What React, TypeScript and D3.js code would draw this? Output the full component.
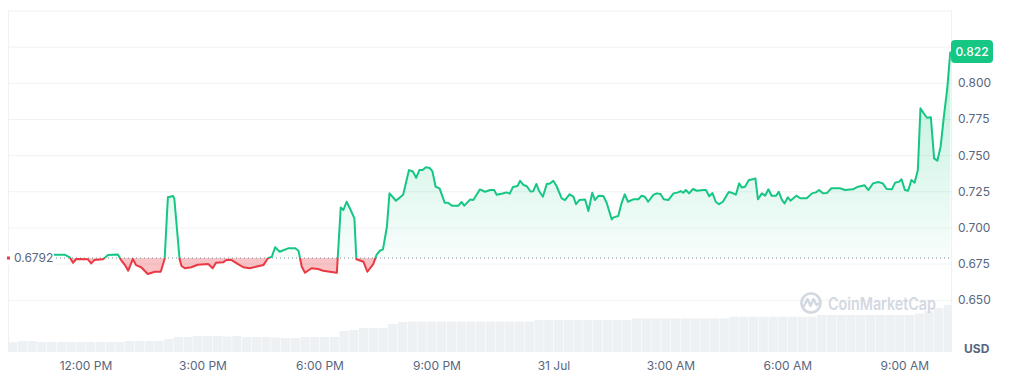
import React from "react";
import * as d3 from "d3";

// ---- data ----
const startTime = new Date(2024, 6, 30, 10, 0);
const endMinutes = 1451;
const baselinePrice = 0.6792;
const lastPrice = 0.822;

// [minutes since start, price USD]
const pricePoints: [number, number][] = [
  [0, 0.6815], [72, 0.6815], [87, 0.6815], [95, 0.6797], [100, 0.6759], [105, 0.6785], [123, 0.6783], [128, 0.6755],
  [133, 0.6778], [146, 0.6783], [154, 0.6813], [169, 0.6817], [174, 0.6778], [180, 0.6743], [185, 0.6704], [192, 0.6785],
  [197, 0.6743], [205, 0.6728], [215, 0.6681], [226, 0.6697], [235, 0.6697], [241, 0.6785], [246, 0.7212], [254, 0.7221],
  [256, 0.72], [264, 0.6785], [267, 0.6737], [272, 0.6721], [282, 0.6728], [292, 0.6745], [308, 0.675], [315, 0.6721],
  [320, 0.6759], [331, 0.6762], [336, 0.6778], [344, 0.6778], [354, 0.675], [362, 0.6728], [372, 0.6721], [383, 0.6733],
  [393, 0.6743], [400, 0.679], [406, 0.6801], [411, 0.6866], [418, 0.6835], [431, 0.6859], [442, 0.6859], [447, 0.6842],
  [452, 0.6732], [457, 0.669], [467, 0.6721], [477, 0.6716], [485, 0.6704], [495, 0.6697], [506, 0.669], [512, 0.7142],
  [516, 0.7124], [521, 0.7181], [526, 0.7136], [533, 0.7066], [536, 0.6783], [547, 0.6766], [553, 0.6697], [562, 0.675],
  [567, 0.6813], [572, 0.6842], [577, 0.6852], [583, 0.7008], [587, 0.7239], [597, 0.7188], [608, 0.723], [617, 0.74],
  [623, 0.739], [628, 0.7346], [633, 0.74], [638, 0.74], [643, 0.7419], [649, 0.7414], [653, 0.7392], [658, 0.7285],
  [664, 0.7274], [672, 0.7174], [677, 0.7174], [683, 0.7154], [693, 0.7154], [698, 0.7179], [702, 0.7154], [711, 0.7196],
  [716, 0.7193], [726, 0.7266], [734, 0.725], [742, 0.7262], [748, 0.7262], [752, 0.723], [761, 0.7238], [767, 0.7246],
  [772, 0.7237], [777, 0.7283], [784, 0.729], [788, 0.7326], [793, 0.7297], [798, 0.729], [804, 0.7252], [808, 0.7253],
  [813, 0.7304], [817, 0.7257], [823, 0.7216], [829, 0.7304], [834, 0.7307], [839, 0.7326], [844, 0.729], [852, 0.7205],
  [857, 0.7193], [864, 0.7232], [870, 0.7216], [874, 0.7164], [879, 0.7193], [888, 0.7196], [893, 0.7117], [899, 0.7243],
  [903, 0.7193], [909, 0.7223], [916, 0.7221], [921, 0.7176], [929, 0.7059], [932, 0.7073], [939, 0.7082], [944, 0.717],
  [949, 0.7232], [954, 0.7181], [962, 0.7198], [970, 0.7198], [975, 0.7223], [980, 0.7216], [985, 0.7181], [993, 0.7228],
  [998, 0.7239], [1004, 0.7234], [1009, 0.7198], [1016, 0.7193], [1024, 0.7239], [1031, 0.7246], [1035, 0.7255], [1039, 0.7243],
  [1043, 0.7262], [1048, 0.7239], [1054, 0.7269], [1060, 0.7257], [1070, 0.7262], [1074, 0.7262], [1079, 0.7219], [1084, 0.7241],
  [1089, 0.7181], [1094, 0.7164], [1100, 0.7181], [1109, 0.7248], [1115, 0.7241], [1120, 0.723], [1125, 0.7308], [1129, 0.7279],
  [1134, 0.7285], [1140, 0.7331], [1146, 0.7336], [1150, 0.7343], [1154, 0.7198], [1160, 0.7239], [1165, 0.7223], [1170, 0.7267],
  [1175, 0.7223], [1182, 0.7223], [1186, 0.725], [1191, 0.7193], [1195, 0.717], [1200, 0.7212], [1204, 0.7188], [1213, 0.7223],
  [1219, 0.7205], [1229, 0.7205], [1237, 0.7239], [1243, 0.7246], [1248, 0.7262], [1254, 0.7239], [1260, 0.7241], [1267, 0.7274],
  [1280, 0.7274], [1288, 0.7262], [1300, 0.7267], [1308, 0.7285], [1318, 0.7295], [1324, 0.7262], [1331, 0.7308], [1339, 0.7317],
  [1346, 0.7308], [1352, 0.7269], [1360, 0.7267], [1365, 0.7313], [1371, 0.732], [1375, 0.7336], [1380, 0.7262], [1385, 0.7257],
  [1390, 0.7331], [1395, 0.7313], [1400, 0.74], [1404, 0.7827], [1409, 0.7793], [1414, 0.7762], [1420, 0.7765], [1425, 0.7481],
  [1430, 0.7465], [1435, 0.7562], [1440, 0.7769], [1445, 0.7954], [1450, 0.822],
];

// volume per 15-minute bucket (relative, millions)
const volumeStepMinutes = 15;
const volumes: number[] = [
  9.7, 11, 11, 10, 10, 10, 10, 10, 10, 10, 10, 10, 11, 11, 11, 11, 13, 15, 15, 16, 16, 16, 15.5, 16, 15, 15, 15, 14.5, 14, 14,
  15, 15, 15, 15, 21, 22, 24, 24, 24, 28, 30,
  30.5, 30.5, 30.5, 30.5, 30.5, 30.5, 30.5, 30.5, 30.5, 30.5, 30.5, 30.5, 30.5,
  32, 32, 32, 32, 32, 32, 32, 32, 32, 32,
  33.7, 33.7, 33.7, 33.7, 33.7, 33.7, 33.7, 33.7, 33.7, 33.7,
  35.3, 35.3, 35.3, 35.3, 35.3, 35.3, 35.3, 35.3, 35.3,
  37, 37, 37, 37, 37, 37, 37, 37, 37, 37,
  38.5, 41, 44, 47,
];

const yTicks = [0.65, 0.675, 0.7, 0.725, 0.75, 0.775, 0.8];
const yGrid = [0.65, 0.675, 0.7, 0.725, 0.75, 0.775, 0.8, 0.825, 0.85];
const xTickHours = [12, 15, 18, 21, 24, 27, 30, 33];
const xTickLabels = ["12:00 PM", "3:00 PM", "6:00 PM", "9:00 PM", "31 Jul", "3:00 AM", "6:00 AM", "9:00 AM"];

const GREEN = "#16c784";
const RED = "#ea3943";
const FONT = "Inter, 'Noto Sans', sans-serif";

const W = 1012, H = 380;
const L = 8, R = 951, T = 10, B = 352;

export default function App() {
  const toDate = (m: number) => new Date(startTime.getTime() + m * 60000);
  const x = d3.scaleTime().domain([toDate(0), toDate(endMinutes)]).range([L, R]);
  const y = d3.scaleLinear().domain([0.6142, 0.8507]).range([B, T]);
  const yv = d3.scaleLinear().domain([0, 52]).range([B, 300]);

  const by = y(baselinePrice);
  const line = d3.line<[number, number]>().x((d) => x(toDate(d[0]))).y((d) => y(d[1]));
  const area = d3
    .area<[number, number]>()
    .x((d) => x(toDate(d[0])))
    .y0(by)
    .y1((d) => y(d[1]));
  const linePath = line(pricePoints) || "";
  const areaPath = area(pricePoints) || "";
  const barW = x(toDate(volumeStepMinutes)) - x(toDate(0));

  return (
    <svg width={W} height={H} style={{ position: "absolute", left: 0, top: 0, background: "#fff" }} fontFamily={FONT}>
      <defs>
        <clipPath id="plot">
          <rect x={L} y={T} width={R - L} height={B - T} />
        </clipPath>
        <clipPath id="above">
          <rect x={L} y={0} width={R - L + 2} height={by} />
        </clipPath>
        <clipPath id="below">
          <rect x={L} y={by} width={R - L + 2} height={H - by} />
        </clipPath>
        <linearGradient id="gfill" gradientUnits="userSpaceOnUse" x1="0" y1={T + 30} x2="0" y2={by}>
          <stop offset="0" stopColor={GREEN} stopOpacity={0.3} />
          <stop offset="1" stopColor={GREEN} stopOpacity={0.03} />
        </linearGradient>
      </defs>

      {/* grid */}
      {yGrid.map((v) => (
        <line key={v} x1={L} x2={R} y1={y(v)} y2={y(v)} stroke="#eff2f5" strokeWidth={1} />
      ))}
      <line x1={L + 0.5} x2={L + 0.5} y1={T} y2={B} stroke="#eff2f5" />
      <line x1={R + 0.5} x2={R + 0.5} y1={T} y2={B} stroke="#eff2f5" />

      {/* volume */}
      <g clipPath="url(#plot)">
        {volumes.map((v, i) => (
          <rect
            key={i}
            x={x(toDate(i * volumeStepMinutes))}
            y={yv(v)}
            width={barW - 0.5}
            height={B - yv(v)}
            fill="#eef1f4"
          />
        ))}
      </g>

      {/* watermark */}
      <g opacity={0.9}>
        <circle cx={811} cy={303} r={9.5} fill="none" stroke="#cfd5de" strokeWidth={2.6} />
        <path d="M803.5,307 L807.5,299 L810.5,306 L813.5,299 L816.5,305 L819,303" fill="none" stroke="#cfd5de" strokeWidth={2.4} strokeLinejoin="round" />
        <text x={828} y={309.5} fontSize={17} fontWeight={600} fill="#cfd5de" textLength={108} lengthAdjust="spacingAndGlyphs">
          CoinMarketCap
        </text>
      </g>

      {/* areas */}
      <path d={areaPath} fill="url(#gfill)" clipPath="url(#above)" />
      <path d={areaPath} fill={RED} fillOpacity={0.3} clipPath="url(#below)" />

      {/* baseline */}
      <line x1={L} x2={R} y1={by} y2={by} stroke="#808a9d" strokeWidth={1} strokeDasharray="1 3" />

      {/* price line */}
      <path d={linePath} fill="none" stroke={GREEN} strokeWidth={2} strokeLinejoin="round" clipPath="url(#above)" />
      <path d={linePath} fill="none" stroke={RED} strokeWidth={2} strokeLinejoin="round" clipPath="url(#below)" />

      {/* baseline label */}
      <rect x={L} y={by - 7} width={46} height={14} fill="#fff" />
      <rect x={7} y={by - 1.5} width={3} height={3} fill={RED} />
      <text x={14} y={by + 4} fontSize={12} fill="#58667e">
        {baselinePrice.toFixed(4)}
      </text>

      {/* y axis labels */}
      {yTicks.map((v) => (
        <text key={v} x={958} y={y(v) + 4} fontSize={12} fill="#58667e">
          {v.toFixed(3)}
        </text>
      ))}
      <text x={964} y={353} fontSize={12} fontWeight={700} fill="#58667e">
        USD
      </text>

      {/* last price badge */}
      <rect x={951} y={y(lastPrice) - 11.5} width={42} height={23} rx={4} fill={GREEN} />
      <text x={972} y={y(lastPrice) + 4} fontSize={12} fontWeight={500} fill="#fff" textAnchor="middle">
        {lastPrice.toFixed(3)}
      </text>

      {/* x axis labels */}
      {xTickHours.map((h, i) => (
        <text key={h} x={x(toDate(h * 60 - 600))} y={370} fontSize={12} fill="#58667e" textAnchor="middle">
          {xTickLabels[i]}
        </text>
      ))}
    </svg>
  );
}
